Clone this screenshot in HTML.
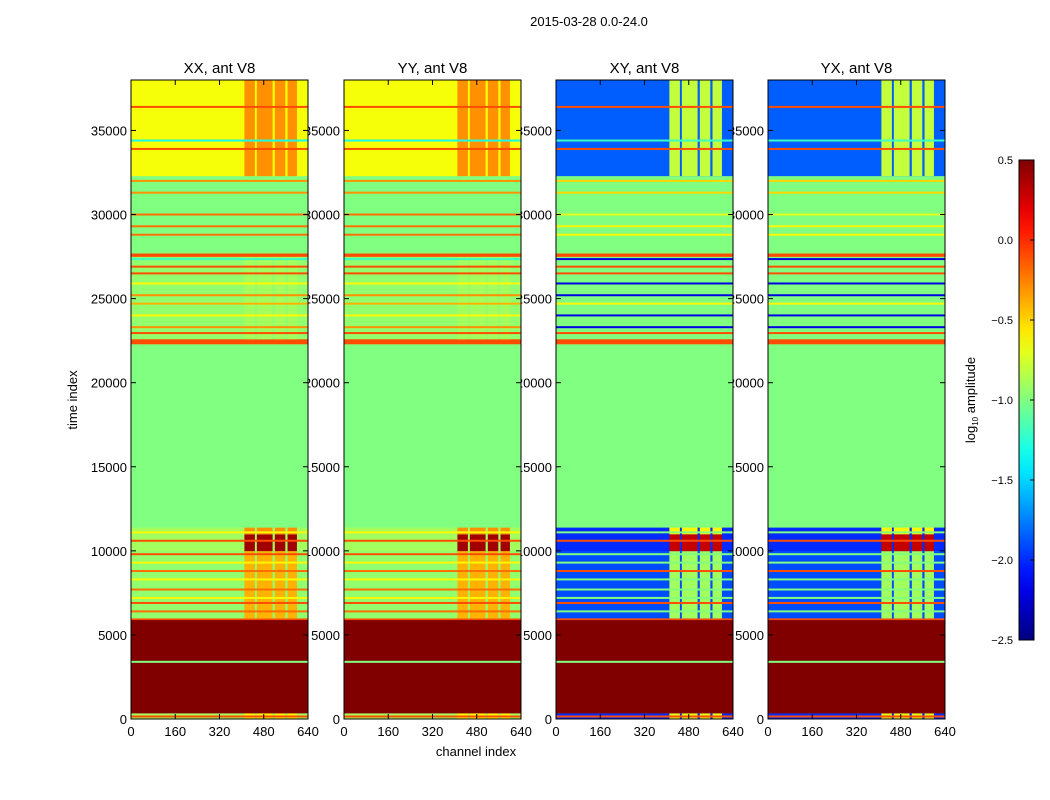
<!DOCTYPE html>
<html><head><meta charset="utf-8"><style>
body{margin:0;background:#fff;}
svg{display:block;font-family:"Liberation Sans",sans-serif;}
</style></head><body>
<svg id="chart" width="1050" height="800" viewBox="0 0 1050 800">
<rect width="1050" height="800" fill="#fff"/>
<text x="589" y="26" font-size="13" text-anchor="middle">2015-03-28 0.0-24.0</text>
<text x="476" y="756" font-size="13" text-anchor="middle">channel index</text>
<text transform="translate(77,400) rotate(-90)" font-size="13" text-anchor="middle">time index</text>
<text transform="translate(975,400) rotate(-90)" font-size="13" text-anchor="middle">log<tspan font-size="8" dy="3">10</tspan><tspan dy="-3"> amplitude</tspan></text>
<g id="labels"></g>
<g id="panels"></g>
<g id="cbar"></g>
</svg>
<script>
// ---- data ----
const panelTitles = ["XX, ant V8","YY, ant V8","XY, ant V8","YX, ant V8"];
const panelKind = ["par","par","cross","cross"];
const xTicks = [0,160,320,480,640];
const yTicks = [0,5000,10000,15000,20000,25000,30000,35000];
const cbTicks = [0.5,0.0,-0.5,-1.0,-1.5,-2.0,-2.5];
// time bands
const bandStart = [0,   350,  5900, 6000, 10000, 11000, 11400, 22300, 22600, 27500, 27700, 32300];
const bandEnd   = [350, 5900, 6000, 10000,11000, 11400, 22300, 22600, 27500, 27700, 32300, 38000];
const parBase   = [-0.9, 0.5, -0.1, -0.95,-0.9, -0.9, -1.0, -0.1, -0.95,-0.1, -1.0, -0.65];
const crossBase = [-2.0, 0.5, -0.1, -1.9, -2.0, -2.0, -1.0, -0.1, -1.0, -0.1, -1.0, -1.85];
const parHot    = [-0.6, 0.5, -0.1, -0.4, 0.4,  -0.3, -1.0, -0.1, -0.9, -0.1, -1.0, -0.3];
const crossHot  = [-0.7, 0.5, -0.1, -0.9, 0.3,  -0.6, -1.0, -0.1, -1.0, -0.1, -1.0, -0.8];
// thin lines
const lineT     = [150, 3400, 6400, 6900, 7200, 7700, 8300, 8800, 9300, 9800, 10600, 11100, 22950, 23300, 24000, 24700, 25200, 25900, 26500, 26900, 27350, 28800, 29300, 30000, 31300, 32000, 33900, 34400, 36400];
const linePar   = [-0.1, -1.0, -0.2, -0.1, -0.6, -0.2, -0.6, -0.2, -0.6, -0.1, -0.1, -0.6, -0.1, -0.3, -0.6, -0.4, -0.3, -0.6, -0.1, -0.1, -1.2, -0.2, -0.2, -0.2, -0.3, -0.3, -0.1, -1.3, -0.1];
const lineCross = [-0.1, -1.0, -1.0, -0.1, -1.0, -1.0, -1.0, -0.1, -1.0, -1.0, -0.1, -1.0, -0.1, -2.2, -2.2, -0.6, -2.2, -2.2, -0.1, -0.1, -2.2, -0.6, -0.6, -0.7, -0.5, -0.5, -0.1, -1.2, -0.1];
const hotCols = [[410,448],[455,512],[520,558],[566,600]];

// ---- layout ----
const NS="http://www.w3.org/2000/svg";
const panelX=[131,344,556,768], pw=177, plotTop=80, plotBot=719;
const tMax=38000, chMax=640, vmin=-2.5, vmax=0.5;
const yS=t=>plotBot-(t/tMax)*(plotBot-plotTop);
const xS=(i,c)=>panelX[i]+(c/chMax)*pw;
function jet(v){
  let x=(v-vmin)/(vmax-vmin); x=Math.max(0,Math.min(1,x));
  const f=(a)=>Math.max(0,Math.min(1,1.5-Math.abs(4*x-a)));
  return `rgb(${Math.round(255*f(3))},${Math.round(255*f(2))},${Math.round(255*f(1))})`;
}
function el(tag,attrs,parent){const e=document.createElementNS(NS,tag);for(const k in attrs)e.setAttribute(k,attrs[k]);parent.appendChild(e);return e;}
const labelsG=document.getElementById('labels'), panelsG=document.getElementById('panels'), cbarG=document.getElementById('cbar');

panelTitles.forEach((title,i)=>{
  yTicks.forEach(t=>{
    const tx=el('text',{x:panelX[i]-4,y:yS(t)+5,'font-size':13,'text-anchor':'end'},labelsG);
    
    
    tx.textContent=t;
  });
  xTicks.forEach(c=>{
    const tx=el('text',{x:xS(i,c),y:plotBot+17,'font-size':13,'text-anchor':'middle'},labelsG);
    
    
    tx.textContent=c;
  });
  const g=el('g',{},panelsG);
  
  
  const tt=el('text',{x:panelX[i]+pw/2,y:73,'font-size':15,'text-anchor':'middle'},g);
  
  
  tt.textContent=title;
  const cross=panelKind[i]==='cross';
  const base=cross?crossBase:parBase, hot=cross?crossHot:parHot, lv=cross?lineCross:linePar;
  bandStart.forEach((s,b)=>{
    const y0=yS(bandEnd[b]), y1=yS(s);
    const r=el('rect',{x:panelX[i],y:y0,width:pw,height:y1-y0+0.3,fill:jet(base[b])},g);
    
    
    if(hot[b]!==base[b]) hotCols.forEach(([c0,c1])=>{
      const h=el('rect',{x:xS(i,c0),y:y0,width:xS(i,c1)-xS(i,c0),height:y1-y0+0.3,fill:jet(hot[b])},g);
      
      
    });
  });
  lineT.forEach((t,k)=>{
    const l=el('rect',{x:panelX[i],y:yS(t)-1,width:pw,height:2,fill:jet(lv[k])},g);
    
    
  });
  const fr=el('rect',{x:panelX[i],y:plotTop,width:pw,height:plotBot-plotTop,fill:'none',stroke:'#000','stroke-width':1},g);
  
  
  xTicks.forEach(c=>{
    el('line',{x1:xS(i,c),x2:xS(i,c),y1:plotBot,y2:plotBot-5,stroke:'#000'},g);
    el('line',{x1:xS(i,c),x2:xS(i,c),y1:plotTop,y2:plotTop+5,stroke:'#000'},g);
  });
  yTicks.forEach(t=>{
    el('line',{x1:panelX[i],x2:panelX[i]+5,y1:yS(t),y2:yS(t),stroke:'#000'},g);
    el('line',{x1:panelX[i]+pw,x2:panelX[i]+pw-5,y1:yS(t),y2:yS(t),stroke:'#000'},g);
  });
});

// colorbar
const cbX=1019, cbW=15, cbT=160, cbB=640;
const defs=el('defs',{},cbarG);
const grad=el('linearGradient',{id:'jetg',x1:0,y1:1,x2:0,y2:0},defs);
for(let k=0;k<=20;k++){el('stop',{offset:k/20,'stop-color':jet(vmin+(vmax-vmin)*k/20)},grad);}
const cb=el('rect',{x:cbX,y:cbT,width:cbW,height:cbB-cbT,fill:'url(#jetg)',stroke:'#000'},cbarG);


cbTicks.forEach(v=>{
  const y=cbT+(vmax-v)/(vmax-vmin)*(cbB-cbT);
  el('line',{x1:cbX+cbW-4,x2:cbX+cbW,y1:y,y2:y,stroke:'#000'},cbarG);
  const tx=el('text',{x:1013,y:y+4,'font-size':11,'text-anchor':'end'},cbarG);
  
  
  tx.textContent=(v<0?'\u2212':'')+Math.abs(v).toFixed(1);
});
</script>
</body></html>
